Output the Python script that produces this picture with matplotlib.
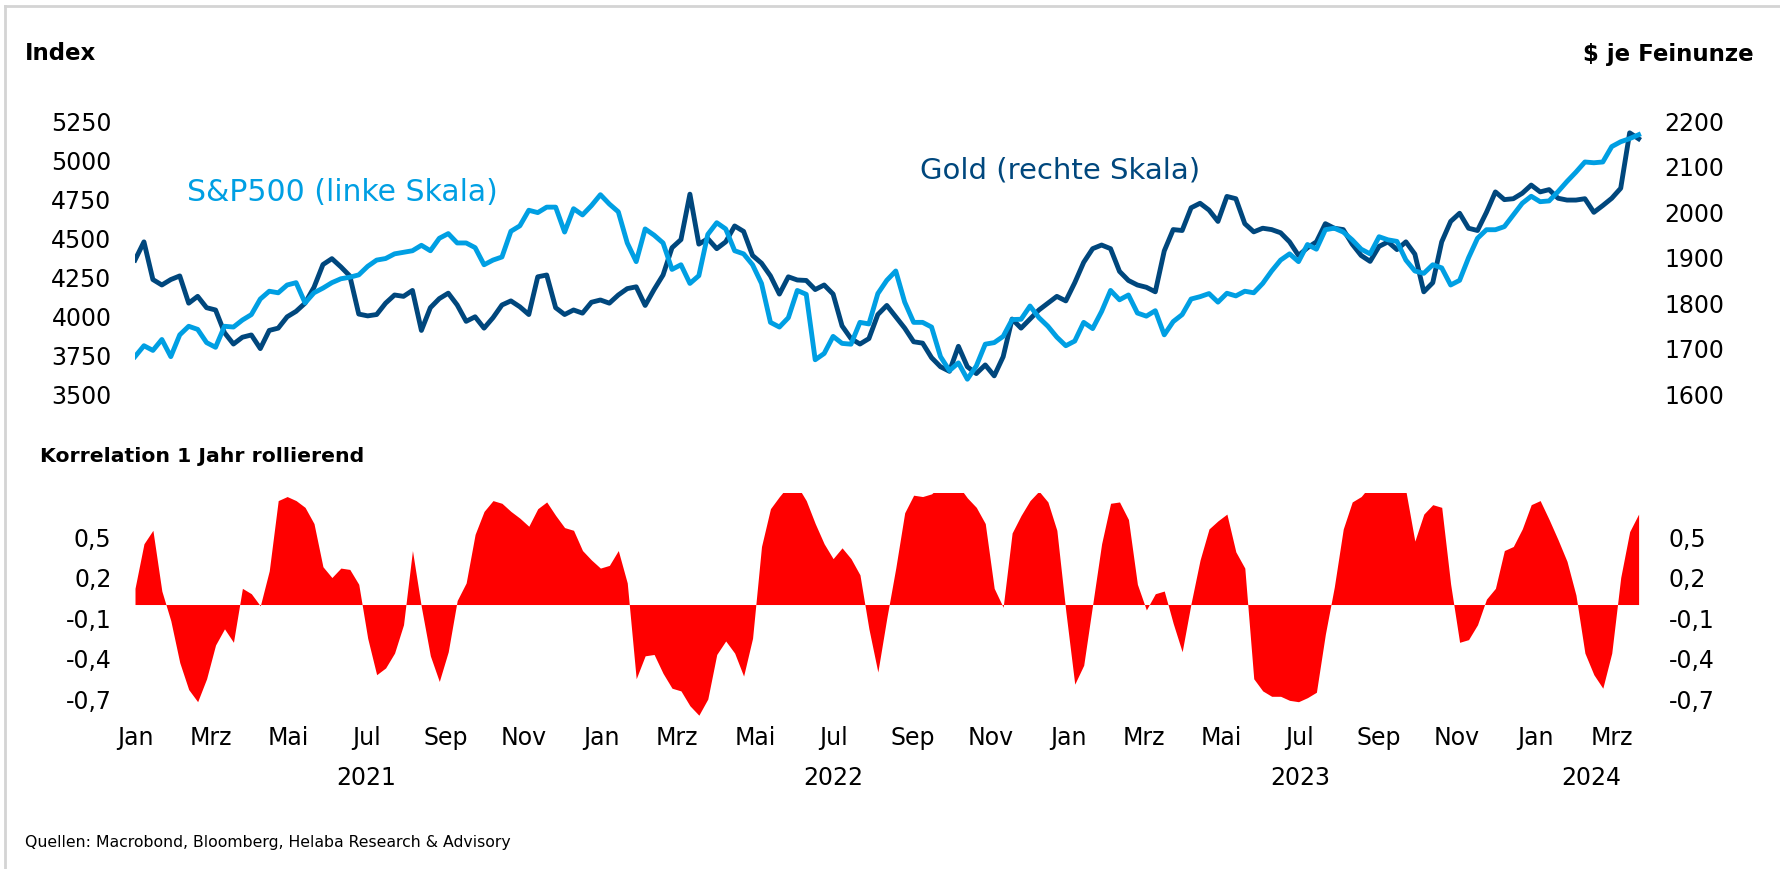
import numpy as np
import pandas as pd
import matplotlib
matplotlib.use("Agg")
import matplotlib.pyplot as plt
from matplotlib.lines import Line2D
from matplotlib.transforms import blended_transform_factory

# weekly values, first week 2021-01-01
sp500 = [3740, 3810, 3780, 3850, 3740, 3880, 3935, 3915, 3830, 3800, 3935, 3930, 3975, 4010, 4110, 4160, 4150,
         4200, 4215, 4085, 4150, 4180, 4215, 4240, 4250, 4265, 4320, 4360, 4370, 4400, 4410, 4420, 4455, 4420,
         4500, 4530, 4470, 4470, 4440, 4330, 4360, 4380, 4545, 4580, 4680, 4665, 4700, 4700, 4540, 4690, 4650,
         4710, 4780, 4720, 4670, 4470, 4350, 4560, 4520, 4470, 4300, 4330, 4210, 4260, 4525, 4600, 4560, 4420,
         4400, 4330, 4210, 3960, 3930, 3990, 4165, 4140, 3720, 3760, 3870, 3825, 3820, 3960, 3950, 4145, 4230,
         4290, 4090, 3960, 3960, 3930, 3740, 3650, 3700, 3595, 3680, 3820, 3830, 3870, 3978, 3980, 4065, 3990,
         3935, 3865, 3810, 3840, 3960, 3920, 4030, 4165, 4105, 4136, 4020, 4000, 4035, 3880, 3965, 4010, 4110,
         4125, 4145, 4090, 4147, 4130, 4160, 4150, 4210, 4290, 4360, 4400, 4350, 4460, 4430, 4555, 4565, 4540,
         4490, 4430, 4400, 4510, 4490, 4480, 4360, 4290, 4275, 4330, 4310, 4200, 4230, 4375, 4500, 4555, 4555,
         4575, 4650, 4725, 4770, 4735, 4740, 4800, 4865, 4925, 4990, 4985, 4990, 5089, 5120, 5140, 5165]

gold = [1895, 1935, 1852, 1840, 1852, 1860, 1800, 1815, 1790, 1785, 1735, 1710, 1725, 1730, 1700, 1740, 1745,
        1770, 1782, 1800, 1835, 1885, 1898, 1880, 1860, 1776, 1772, 1775, 1800, 1818, 1815, 1828, 1740, 1790,
        1810, 1822, 1796, 1760, 1770, 1745, 1768, 1796, 1805, 1792, 1775, 1858, 1862, 1790, 1775, 1785, 1778,
        1802, 1807, 1800, 1818, 1832, 1836, 1795, 1830, 1862, 1922, 1940, 2040, 1930, 1942, 1920, 1935, 1970,
        1958, 1905, 1888, 1860, 1820, 1858, 1851, 1850, 1830, 1840, 1820, 1750, 1722, 1710, 1722, 1775, 1795,
        1770, 1745, 1715, 1712, 1680, 1660, 1650, 1705, 1660, 1645, 1664, 1640, 1682, 1765, 1745, 1765, 1785,
        1800, 1815, 1805, 1845, 1890, 1920, 1928, 1920, 1870, 1850, 1840, 1835, 1825, 1915, 1962, 1960, 2010,
        2020, 2005, 1980, 2035, 2030, 1975, 1957, 1965, 1962, 1955, 1935, 1905, 1922, 1935, 1975, 1965, 1962,
        1930, 1905, 1892, 1925, 1935, 1918, 1935, 1908, 1825, 1845, 1935, 1980, 1998, 1965, 1960, 2000, 2045,
        2028, 2030, 2042, 2060, 2045, 2050, 2031, 2027, 2027, 2030, 2000, 2015, 2031, 2053, 2175, 2162]

korrelation = [0.12, 0.45, 0.55, 0.10, -0.12, -0.43, -0.63, -0.72, -0.55, -0.30, -0.18, -0.28, 0.12, 0.08,
               -0.01, 0.25, 0.77, 0.80, 0.77, 0.72, 0.60, 0.28, 0.20, 0.27, 0.26, 0.15, -0.25, -0.52, -0.47,
               -0.36, -0.15, 0.40, -0.02, -0.38,
               -0.57, -0.35, 0.03, 0.16, 0.52, 0.69, 0.77, 0.75, 0.69, 0.64, 0.58, 0.71, 0.76, 0.66, 0.57,
               0.55, 0.40, 0.33, 0.27, 0.29, 0.40, 0.16, -0.55, -0.38, -0.37, -0.51, -0.62, -0.64, -0.75,
               -0.82, -0.70, -0.37, -0.27, -0.36,
               -0.53, -0.25, 0.43, 0.71, 0.80, 0.88, 0.88, 0.77, 0.60, 0.45, 0.34, 0.42, 0.34, 0.22, -0.18,
               -0.50, -0.10, 0.27, 0.68, 0.81, 0.80, 0.82, 0.88, 0.88, 0.88, 0.79, 0.72, 0.60, 0.12, -0.02,
               0.53, 0.66, 0.77, 0.84,
               0.76, 0.55, -0.05, -0.59, -0.45, 0.00, 0.45, 0.75, 0.76, 0.63, 0.15, -0.04, 0.08, 0.10, -0.14,
               -0.35, 0.01, 0.33, 0.56, 0.62, 0.67, 0.39, 0.27, -0.55, -0.64, -0.68, -0.68, -0.71, -0.72,
               -0.69, -0.65, -0.22, 0.13, 0.56,
               0.76, 0.80, 0.88, 0.88, 0.88, 0.88, 0.84, 0.47, 0.67, 0.74, 0.72, 0.15, -0.28, -0.26, -0.15,
               0.04, 0.12, 0.40, 0.43, 0.56, 0.74, 0.77, 0.63, 0.48, 0.32, 0.07, -0.36, -0.52, -0.62, -0.36,
               0.20, 0.54, 0.67]

dates = pd.date_range("2021-01-01", periods=len(sp500), freq="7D")

sp_ticks = [3500, 3750, 4000, 4250, 4500, 4750, 5000, 5250]
gold_ticks = [1600, 1700, 1800, 1900, 2000, 2100, 2200]
corr_ticks = [-0.7, -0.4, -0.1, 0.2, 0.5]
month_names = {1: "Jan", 3: "Mrz", 5: "Mai", 7: "Jul", 9: "Sep", 11: "Nov"}
year_pos = {"2021": "2021-07-01", "2022": "2022-07-01", "2023": "2023-07-01", "2024": "2024-02-14"}

C_SP = "#009FE3"
C_GOLD = "#00477D"
C_RED = "#FF0000"

W, H = 1780, 869
plt.rcParams["font.family"] = ["DejaVu Sans"]
fig = plt.figure(figsize=(W / 100, H / 100), dpi=100)

xmin = pd.Timestamp("2021-01-01")
xmax = pd.Timestamp("2024-03-27")
left = 135 / W
width = (1645 - 135) / W

ax = fig.add_axes([left, 1 - 394 / H, width, (394 - 121.5) / H])
ax2 = ax.twinx()
axc = fig.add_axes([left, 1 - 720.6 / H, width, (720.6 - 492.5) / H])

# gold on the right scale, S&P drawn above it
ax2.plot(dates, gold, color=C_GOLD, lw=3.5, solid_joinstyle="round")
ax.plot(dates, sp500, color=C_SP, lw=3.5, solid_joinstyle="round")
ax.set_zorder(ax2.get_zorder() + 1)
ax.patch.set_visible(False)

ax.set_ylim(3500, 5250)
ax2.set_ylim(1600, 2200)
ax.set_yticks(sp_ticks)
ax2.set_yticks(gold_ticks)
for a in (ax, ax2):
    a.set_xlim(xmin, xmax)
    a.set_xticks([])
    for s in a.spines.values():
        s.set_visible(False)
ax.tick_params(axis="y", length=0, pad=17, labelsize=17)
ax2.tick_params(axis="y", length=0, pad=14, labelsize=17)

# correlation panel
axc.fill_between(dates, 0, korrelation, color=C_RED, lw=0)
axc.set_xlim(xmin, xmax)
axc.set_ylim(-0.86, 0.83)
axc.set_yticks(corr_ticks)
axc.set_yticklabels([f"{v:.1f}".replace(".", ",") for v in corr_ticks])
axc.tick_params(axis="y", length=0, pad=17, labelsize=17, labelright=True, right=False)
for s in axc.spines.values():
    s.set_visible(False)

months = pd.date_range("2021-01-01", "2024-03-01", freq="2MS")
axc.set_xticks(months)
axc.set_xticklabels([month_names[d.month] for d in months])
axc.tick_params(axis="x", length=0, pad=4, labelsize=17)

trans = blended_transform_factory(axc.transData, fig.transFigure)
for yr, d in year_pos.items():
    axc.text(pd.Timestamp(d), 1 - 778 / H, yr, transform=trans, ha="center", va="center", fontsize=17)

# texts
fig.text(25 / W, 1 - 54 / H, "Index", fontsize=16.5, fontweight="bold", ha="left", va="center")
fig.text(1754 / W, 1 - 54 / H, "$ je Feinunze", fontsize=16.5, fontweight="bold", ha="right", va="center")
fig.text(187 / W, 1 - 193 / H, "S&P500 (linke Skala)", fontsize=21.5, color=C_SP, ha="left", va="center")
fig.text(920 / W, 1 - 171 / H, "Gold (rechte Skala)", fontsize=21, color=C_GOLD, ha="left", va="center")
fig.text(40 / W, 1 - 456 / H, "Korrelation 1 Jahr rollierend", fontsize=14.7, fontweight="bold",
         ha="left", va="center")
fig.text(25 / W, 1 - 842 / H, "Quellen: Macrobond, Bloomberg, Helaba Research & Advisory", fontsize=11.3,
         ha="left", va="center")

# frame
fig.add_artist(Line2D([5 / W, 1], [1 - 6 / H, 1 - 6 / H], transform=fig.transFigure, color="#d4d4d4", lw=2))
fig.add_artist(Line2D([5 / W, 5 / W], [0, 1 - 6 / H], transform=fig.transFigure, color="#d4d4d4", lw=2))

fig.savefig("out.png", dpi=100)
